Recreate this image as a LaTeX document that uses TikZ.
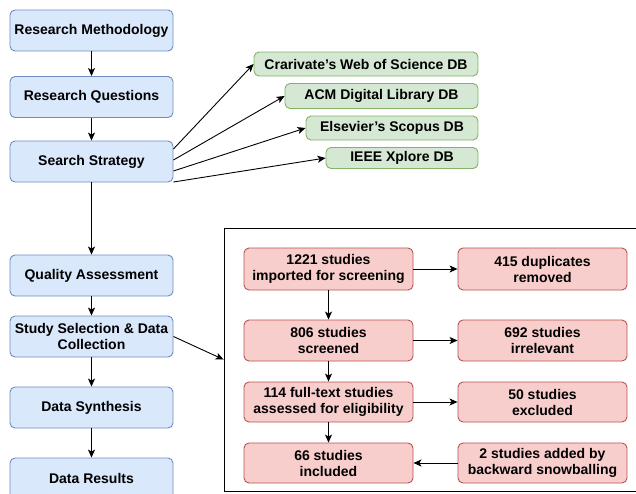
\documentclass[tikz,border=0pt]{standalone}
\usepackage{fontspec}
\setmainfont{Liberation Sans}
\usetikzlibrary{arrows.meta}
\definecolor{bfill}{HTML}{DAE8FC}\definecolor{bdraw}{HTML}{6C8EBF}
\definecolor{gfill}{HTML}{D5E8D4}\definecolor{gdraw}{HTML}{82B366}
\definecolor{rfill}{HTML}{F8CECC}\definecolor{rdraw}{HTML}{B85450}
\begin{document}
\begin{tikzpicture}[x=1pt,y=-1pt,
  base/.style={rounded corners=5pt, line width=0.9pt, inner sep=0pt, align=center,
    font=\fontsize{14}{16}\selectfont\bfseries},
  bluebox/.style={base, fill=bfill, draw=bdraw, minimum width=163pt, minimum height=41pt},
  greenbox/.style={base, fill=gfill, draw=gdraw},
  redbox/.style={base, fill=rfill, draw=rdraw, minimum width=169pt},
  arr/.style={-{Stealth[length=8pt,width=7pt,inset=2pt]}, line width=0.9pt}]
\clip (0,0) rectangle (636,493);
\fill[white] (0,0) rectangle (636,493);
% left column
\node[bluebox] (rm) at (91.5,30.5) {Research Methodology};
\node[bluebox] (rq) at (91.5,97) {Research Questions};
\node[bluebox] (ss) at (91.5,161.5) {Search Strategy};
\node[bluebox] (qa) at (91.5,275.5) {Quality Assessment};
\node[bluebox] (sd) at (91.5,336.5) {Study Selection \& Data\\Collection};
\node[bluebox] (dsy) at (91.5,407.5) {Data Synthesis};
\node[bluebox] (dr) at (91.5,478.5) {Data Results};
% databases
\node[greenbox, minimum width=224pt, minimum height=24pt] (wos) at (366,64) {Crarivate\char"0027 s Web of Science DB};
\node[greenbox, minimum width=193pt, minimum height=25pt] (acm) at (381.5,96) {ACM Digital Library DB};
\node[greenbox, minimum width=172pt, minimum height=24pt] (sco) at (392,128) {Elsevier\char"0027 s Scopus DB};
\node[greenbox, minimum width=152pt, minimum height=21pt] (iee) at (402,158) {IEEE Xplore DB};
% panel
\node[draw=black, line width=0.9pt, minimum width=426pt, minimum height=263pt, inner sep=0pt] (panel) at (437,359.5) {};
% red boxes
\node[redbox, minimum height=42pt] (r1) at (328.5,269) {1221 studies\\imported for screening};
\node[redbox, minimum height=42pt] (d1) at (542.5,269) {415 duplicates\\removed};
\node[redbox, minimum height=41pt] (r2) at (328.5,340.5) {806 studies\\screened};
\node[redbox, minimum height=41pt] (d2) at (542.5,340.5) {692 studies\\irrelevant};
\node[redbox, minimum height=40pt] (r3) at (328.5,402) {114 full-text studies\\assessed for eligibility};
\node[redbox, minimum height=40pt] (d3) at (542.5,402) {50 studies\\excluded};
\node[redbox, minimum height=40pt] (r4) at (328.5,463) {66 studies\\included};
\node[redbox, minimum height=40pt] (d4) at (542.5,463) {2 studies added by\\backward snowballing};
% left column arrows
\draw[arr] (rm) -- (rq);
\draw[arr] (rq) -- (ss);
\draw[arr] (ss) -- (qa);
\draw[arr] (qa) -- (sd);
\draw[arr] (sd) -- (dsy);
\draw[arr] (dsy) -- (dr);
% search strategy to DBs
\draw[arr] ([yshift=12.5pt]ss.east) -- (wos.west);
\draw[arr] ([yshift=1.5pt]ss.east) -- (acm.west);
\draw[arr] ([yshift=-9.5pt]ss.east) -- (sco.west);
\draw[arr] ([yshift=-20.5pt]ss.east) -- (iee.west);
% study selection to panel
\draw[arr] (sd.east) -- (panel.west);
% red arrows
\draw[arr] (r1) -- (d1);
\draw[arr] (r2) -- (d2);
\draw[arr] (r3) -- (d3);
\draw[arr] (d4) -- (r4);
\draw[arr] (r1) -- (r2);
\draw[arr] (r2) -- (r3);
\draw[arr] (r3) -- (r4);
\end{tikzpicture}
\end{document}
